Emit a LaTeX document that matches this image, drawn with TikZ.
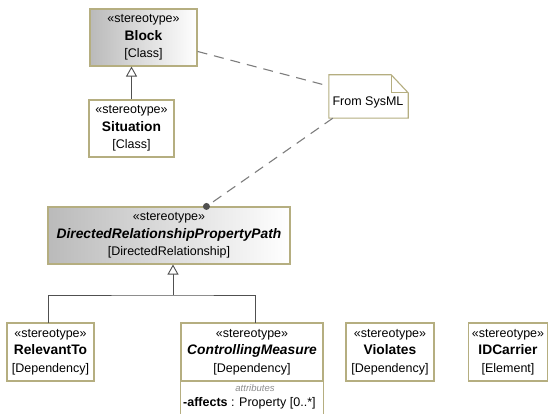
\documentclass[tikz,border=0pt]{standalone}
\usepackage{fontspec}
\setmainfont{Liberation Sans}
\usetikzlibrary{arrows.meta,calc}
\definecolor{bord}{RGB}{181,174,128}
\definecolor{conn}{RGB}{80,80,80}
\definecolor{dashc}{RGB}{125,125,125}
\newcommand{\nm}[1]{{\fontsize{13.8}{17.5}\selectfont\bfseries #1}}
\begin{document}
\begin{tikzpicture}[x=1pt,y=-1pt,
  every node/.style={font=\fontsize{12.5}{17.5}\selectfont},
  elem/.style={draw=bord, line width=1.1pt, fill=white, rectangle, inner sep=0pt, align=center},
  grad/.style={elem, left color=black!27, right color=white},
  genline/.style={draw=conn, line width=0.9pt},
  gen/.style={genline, -{Triangle[open, length=10pt, width=11pt, fill=white]}},
  noteline/.style={draw=dashc, line width=1.1pt, dash pattern=on 10pt off 7pt}
]
\path[use as bounding box] (0,0) rectangle (550,414);

% classes
\node[grad, minimum width=107pt, minimum height=57pt] (block) at (143.5,37.5)
  {«stereotype»\\\nm{Block}\\{[Class]}};
\node[elem, minimum width=85pt, minimum height=57pt] (sit) at (131.5,128.5)
  {«stereotype»\\\nm{Situation}\\{[Class]}};
\node[grad, minimum width=242pt, minimum height=57pt] (drpp) at (169,235.5)
  {«stereotype»\\\nm{\itshape DirectedRelationshipPropertyPath}\\{[DirectedRelationship]}};
\node[elem, minimum width=87pt, minimum height=58pt] (rel) at (50.5,352)
  {«stereotype»\\\nm{RelevantTo}\\{[Dependency]}};
\node[elem, minimum width=142pt, minimum height=58pt] (cm) at (252,352)
  {«stereotype»\\\nm{\itshape ControllingMeasure}\\{[Dependency]}};
\node[elem, minimum width=88pt, minimum height=58pt] (viol) at (390,352)
  {«stereotype»\\\nm{Violates}\\{[Dependency]}};
\node[elem, minimum width=79pt, minimum height=58pt] (idc) at (508,352)
  {«stereotype»\\\nm{IDCarrier}\\{[Element]}};

% attribute compartment of ControllingMeasure
\fill[white] (cm.south west) rectangle (cm.east |- 0,414);
\draw[bord, line width=1.1pt] (cm.south west |- 0,414) -- (cm.south west) -- (cm.south east) -- (cm.east |- 0,414);
\node[font=\fontsize{9.5}{11}\selectfont\itshape, text=black!45] (attrlbl) at (255,388) {attributes};
\node[anchor=west, inner sep=0pt] (attr) at (183,403) {\textbf{-affects} : Property [0..*]};

% note
\node[minimum width=79pt, minimum height=43pt, inner sep=0pt] (note) at (368.5,96.5) {};
\draw[bord, line width=1.1pt, fill=white] (note.north west) -- ($(note.north east)+(-17,0)$)
  -- ($(note.north east)+(0,18)$) -- (note.south east) -- (note.south west) -- cycle;
\draw[bord, line width=1.1pt] ($(note.north east)+(-17,0)$) -- ($(note.north east)+(-17,18)$)
  -- ($(note.north east)+(0,18)$);
\node (notetxt) at (368,102.5) {From SysML};

% generalizations
\draw[gen] (sit.north) -- (sit.north |- block.south);
\coordinate (j) at (173,295);
\coordinate (relTop) at (48,323);
\coordinate (cmTop) at (255,323);
\draw[genline] (relTop) |- (j) -| (cmTop);
\draw[gen] (j) -- (j |- drpp.south);

% note anchors
\draw[noteline] ($(block.south east)!0.26!(block.north east)$) -- ($(note.south west)!0.74!(note.north west)$);
\draw[noteline] ([xshift=4pt]note.south west) -- ([xshift=159pt]drpp.north west);
\fill[conn] ([xshift=159pt]drpp.north west) circle (3.5pt);
\end{tikzpicture}
\end{document}
